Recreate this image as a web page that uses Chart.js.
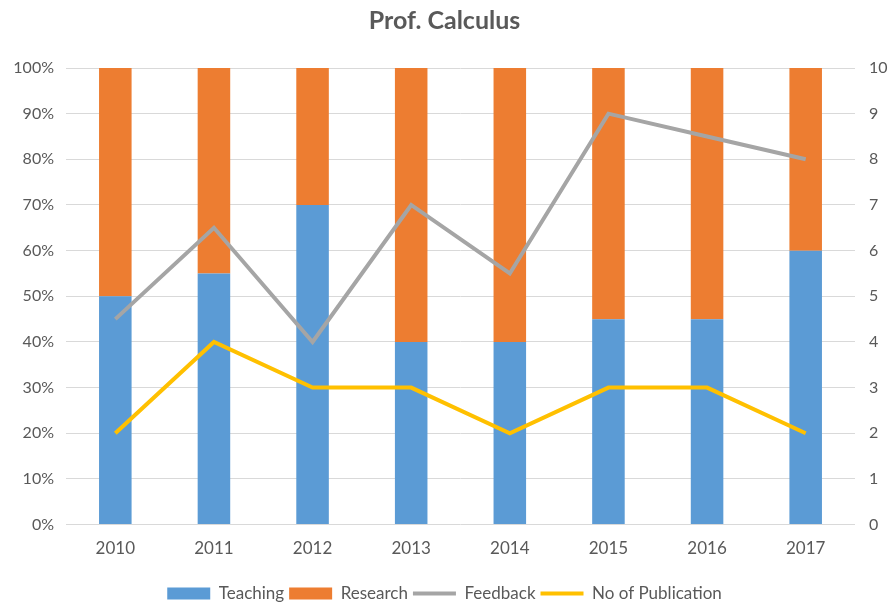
<!DOCTYPE html>
<html>
<head>
<meta charset="utf-8">
<script src="https://cdn.jsdelivr.net/npm/chart.js@4/dist/chart.umd.min.js"></script>
<style>
  html, body { margin: 0; padding: 0; background: #fff; }
  #wrap { width: 889px; height: 605px; }
</style>
</head>
<body>
<div id="wrap"><canvas id="profChart" width="889" height="605"></canvas></div>
<script>
// --- data ---
const years = ['2010', '2011', '2012', '2013', '2014', '2015', '2016', '2017'];
const teaching = [50, 55, 70, 40, 40, 45, 45, 60];
const research = [50, 45, 30, 60, 60, 55, 55, 40];
const feedback = [4.5, 6.5, 4, 7, 5.5, 9, 8.5, 8];
const publications = [2, 4, 3, 3, 2, 3, 3, 2];

const textGrey = '#595959';
const fontFamily = "Lato, 'Open Sans', sans-serif";

const ctx = document.getElementById('profChart').getContext('2d');
new Chart(ctx, {
    type: 'bar',
    data: {
        labels: years,
        datasets: [
            {
                label: 'Teaching',
                data: teaching,
                backgroundColor: '#5B9BD5',
                yAxisID: 'y',
                order: 1,
                pointStyle: 'rect',
                barPercentage: 0.33,
                categoryPercentage: 1
            },
            {
                label: 'Research',
                data: research,
                backgroundColor: '#ED7D31',
                yAxisID: 'y',
                order: 1,
                pointStyle: 'rect',
                barPercentage: 0.33,
                categoryPercentage: 1
            },
            {
                type: 'line',
                label: 'Feedback',
                data: feedback,
                borderColor: '#A5A5A5',
                backgroundColor: '#A5A5A5',
                borderWidth: 4,
                pointRadius: 0,
                pointStyle: 'line',
                tension: 0,
                yAxisID: 'y1',
                order: 0
            },
            {
                type: 'line',
                label: 'No of Publication',
                data: publications,
                borderColor: '#FFC000',
                backgroundColor: '#FFC000',
                borderWidth: 4,
                pointRadius: 0,
                pointStyle: 'line',
                tension: 0,
                yAxisID: 'y1',
                order: 0
            }
        ]
    },
    options: {
        responsive: false,
        animation: false,
        layout: { padding: { left: 0, right: 0, top: 0, bottom: -7 } },
        plugins: {
            title: {
                display: true,
                text: 'Prof. Calculus',
                color: textGrey,
                font: { family: fontFamily, size: 25, weight: 'bold' },
                padding: { top: 6, bottom: 32 }
            },
            legend: {
                position: 'bottom',
                labels: {
                    usePointStyle: true,
                    pointStyleWidth: 43,
                    boxHeight: 12,
                    padding: 5,
                    color: textGrey,
                    font: { family: fontFamily, size: 17 },
                    sort: (a, b) => a.datasetIndex - b.datasetIndex
                }
            },
            tooltip: { enabled: false }
        },
        scales: {
            x: {
                stacked: true,
                grid: { display: false },
                border: { display: false },
                ticks: {
                    color: textGrey,
                    font: { family: fontFamily, size: 17 },
                    padding: 6
                },
                afterFit: scale => { scale.height += 15; }
            },
            y: {
                stacked: true,
                position: 'left',
                min: 0,
                max: 100,
                grid: { color: '#D9D9D9', lineWidth: 1, drawTicks: false },
                border: { display: false },
                ticks: {
                    stepSize: 10,
                    color: textGrey,
                    padding: 12,
                    font: { family: fontFamily, size: 16 },
                    callback: v => v + '%'
                },
                afterFit: scale => { scale.width = 66; }
            },
            y1: {
                position: 'right',
                min: 0,
                max: 10,
                grid: { display: false, drawOnChartArea: false },
                border: { display: false },
                ticks: {
                    stepSize: 1,
                    color: textGrey,
                    padding: 6,
                    font: { family: fontFamily, size: 16 }
                },
                afterFit: scale => { scale.width = 34; }
            }
        }
    }
});
</script>
</body>
</html>
